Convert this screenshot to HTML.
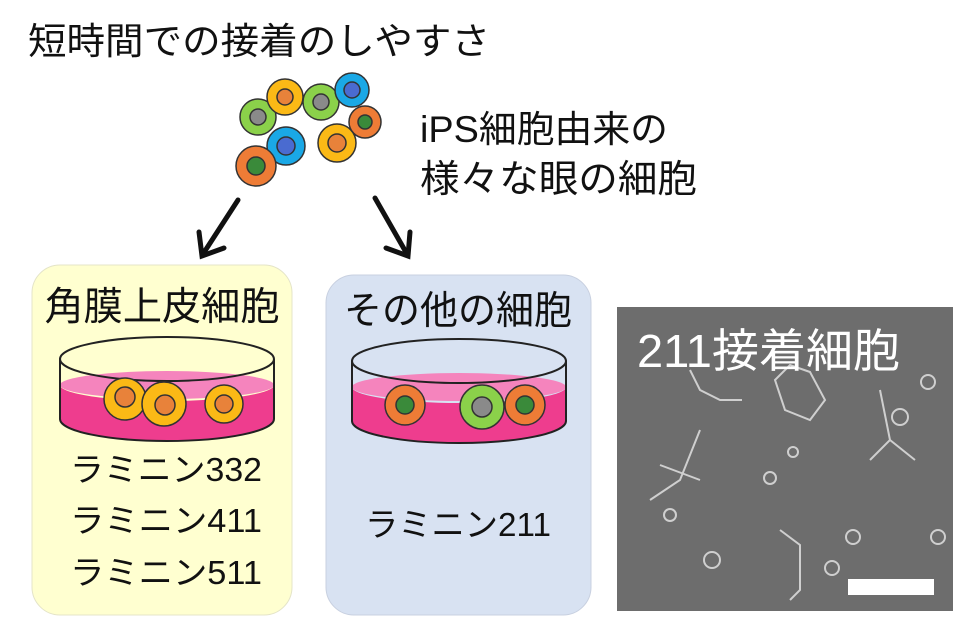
<!DOCTYPE html>
<html><head><meta charset="utf-8"><style>
html,body{margin:0;padding:0;background:#fff;}
svg{display:block;}
text{font-family:"Liberation Sans","Noto Sans CJK JP",sans-serif;}
</style></head><body>
<svg width="972" height="634" viewBox="0 0 972 634" xmlns="http://www.w3.org/2000/svg">
<rect width="972" height="634" fill="#fff"/>
<text x="28" y="54" font-size="37" fill="#111" textLength="462" lengthAdjust="spacingAndGlyphs">短時間での接着のしやすさ</text>
<text x="420" y="142" font-size="37" fill="#111" textLength="248" lengthAdjust="spacingAndGlyphs">iPS細胞由来の</text>
<text x="420" y="192" font-size="38" fill="#111" textLength="277" lengthAdjust="spacingAndGlyphs">様々な眼の細胞</text>

<g stroke="#333" stroke-width="1.5">
<circle cx="258" cy="117" r="18" fill="#8bd14a"/><circle cx="258" cy="117" r="8" fill="#8a8a8a"/>
<circle cx="285" cy="97" r="18" fill="#fbb916"/><circle cx="285" cy="97" r="8" fill="#e8823a"/>
<circle cx="321" cy="102" r="18" fill="#8bd14a"/><circle cx="321" cy="102" r="8" fill="#8a8a8a"/>
<circle cx="352" cy="90" r="17" fill="#1aa8e6"/><circle cx="352" cy="90" r="8" fill="#4a6bd0"/>
<circle cx="365" cy="122" r="16" fill="#ee7c36"/><circle cx="365" cy="122" r="7" fill="#3a8a3a"/>
<circle cx="286" cy="146" r="19" fill="#1aa8e6"/><circle cx="286" cy="146" r="9" fill="#4a6bd0"/>
<circle cx="337" cy="143" r="19" fill="#fbb916"/><circle cx="337" cy="143" r="9" fill="#e8823a"/>
<circle cx="256" cy="166" r="20" fill="#ee7c36"/><circle cx="256" cy="166" r="9" fill="#3a8a3a"/>
</g>

<g stroke="#111" stroke-width="5" fill="none" stroke-linecap="round">
<line x1="238" y1="200" x2="203" y2="254"/>
<polyline points="199,232 202,256 224,248"/>
<line x1="375" y1="198" x2="407" y2="254"/>
<polyline points="386,248 408,256 410,232"/>
</g>

<rect x="32" y="265" width="260" height="350" rx="28" fill="#ffffd0" stroke="#e4e4c8" stroke-width="1"/>
<rect x="326" y="275" width="265" height="340" rx="28" fill="#d8e2f2" stroke="#c8d0e0" stroke-width="1"/>
<text x="162" y="320" font-size="39" fill="#111" text-anchor="middle" textLength="235" lengthAdjust="spacingAndGlyphs">角膜上皮細胞</text>
<text x="458" y="324" font-size="39" fill="#111" text-anchor="middle" textLength="228" lengthAdjust="spacingAndGlyphs">その他の細胞</text>

<g>
<path d="M60,385 L60,419 A107,22 0 0 0 274,419 L274,385 A107,16 0 0 1 60,385 Z" fill="#ee3d8e"/>
<ellipse cx="167" cy="385" rx="107" ry="14" fill="#f584bd"/>
<path d="M60,359 L60,419 A107,22 0 0 0 274,419 L274,359" fill="none" stroke="#222" stroke-width="2"/>
<ellipse cx="167" cy="359" rx="107" ry="22" fill="none" stroke="#222" stroke-width="2"/>
<g stroke="#333" stroke-width="1.5">
<circle cx="125" cy="399" r="21" fill="#fbb916"/><circle cx="125" cy="397" r="10" fill="#e8823a"/>
<circle cx="164" cy="404" r="22" fill="#fbb916"/><circle cx="165" cy="405" r="10" fill="#e8823a"/>
<circle cx="224" cy="404" r="19" fill="#fbb916"/><circle cx="224" cy="404" r="9" fill="#e8823a"/>
</g>
</g>

<g>
<path d="M352,387 L352,421 A107,22 0 0 0 566,421 L566,387 A107,16 0 0 1 352,387 Z" fill="#ee3d8e"/>
<ellipse cx="459" cy="387" rx="107" ry="14" fill="#f584bd"/>
<path d="M352,361 L352,421 A107,22 0 0 0 566,421 L566,361" fill="none" stroke="#222" stroke-width="2"/>
<ellipse cx="459" cy="361" rx="107" ry="22" fill="none" stroke="#222" stroke-width="2"/>
<g stroke="#333" stroke-width="1.5">
<circle cx="405" cy="405" r="20" fill="#ee7c36"/><circle cx="405" cy="405" r="9" fill="#3a8a3a"/>
<circle cx="482" cy="407" r="22" fill="#8bd14a"/><circle cx="482" cy="407" r="10" fill="#8a8a8a"/>
<circle cx="525" cy="405" r="20" fill="#ee7c36"/><circle cx="525" cy="405" r="9" fill="#3a8a3a"/>
</g>
</g>

<text x="166" y="481" font-size="33" fill="#111" text-anchor="middle" textLength="192" lengthAdjust="spacingAndGlyphs">ラミニン332</text>
<text x="166" y="532" font-size="33" fill="#111" text-anchor="middle" textLength="192" lengthAdjust="spacingAndGlyphs">ラミニン411</text>
<text x="166" y="584" font-size="33" fill="#111" text-anchor="middle" textLength="192" lengthAdjust="spacingAndGlyphs">ラミニン511</text>
<text x="458" y="536" font-size="33" fill="#111" text-anchor="middle" textLength="186" lengthAdjust="spacingAndGlyphs">ラミニン211</text>

<rect x="617" y="307" width="336" height="304" fill="#6d6d6d"/>
<g fill="none" stroke="#cfcfcf" stroke-width="2">
<path d="M690,370 L700,390 L720,400 L742,400"/>
<path d="M775,380 L790,365 L810,372 L825,400 L810,420 L785,410 Z"/>
<path d="M880,390 L890,440 L870,460 M890,440 L915,460"/>
<path d="M700,430 L680,480 L650,500 M660,465 L700,480"/>
<path d="M780,530 L800,545 L800,590 L790,600"/>
<circle cx="900" cy="417" r="8"/><circle cx="853" cy="537" r="7"/><circle cx="712" cy="560" r="8"/>
<circle cx="832" cy="568" r="7"/><circle cx="938" cy="537" r="7"/><circle cx="793" cy="452" r="5"/>
<circle cx="770" cy="478" r="6"/><circle cx="928" cy="382" r="7"/><circle cx="670" cy="515" r="6"/>
</g>
<text x="637" y="367" font-size="46" fill="#fff" textLength="263" lengthAdjust="spacingAndGlyphs">211接着細胞</text>
<rect x="848" y="579" width="86" height="16" fill="#fff"/>
</svg>
</body></html>
